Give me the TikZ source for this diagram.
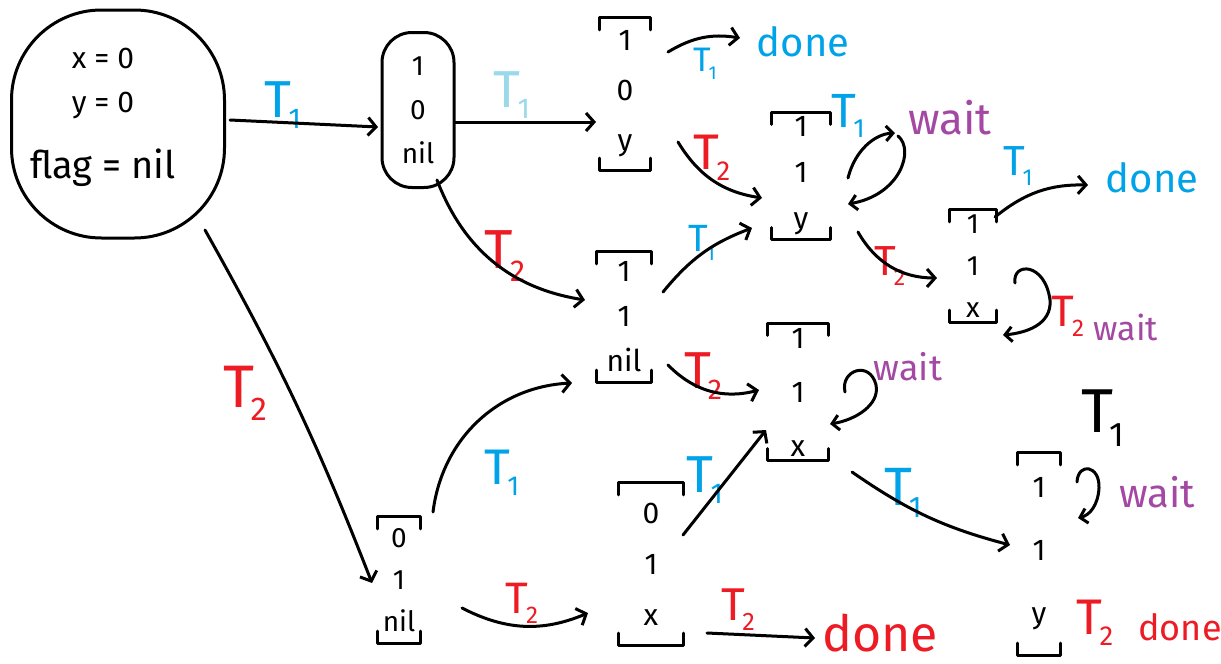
\documentclass[tikz,border=0pt]{standalone}
\usepackage{fontspec}
\setmainfont{Fira Sans}
\usetikzlibrary{arrows.meta}
\definecolor{blueC}{HTML}{00A2E8}
\definecolor{lightC}{HTML}{99D9EA}
\definecolor{redC}{HTML}{ED1C24}
\definecolor{purpC}{HTML}{A349A4}
\newcommand\fsz[2]{\fontsize{#1}{#2}\selectfont}
\newcommand\TT[1]{T\kern-.06em\raisebox{-.22em}{\scalebox{.55}{#1}}}
\newcommand\brk[1]{%
  \draw[br] ([yshift=-12pt]#1.north west) -- (#1.north west) -- (#1.north east) -- ([yshift=-12pt]#1.north east);
  \draw[br] ([yshift=12pt]#1.south west) -- (#1.south west) -- (#1.south east) -- ([yshift=12pt]#1.south east);}
\begin{document}
\begin{tikzpicture}[x=1pt,y=-1pt,
  br/.style={line width=3pt, line cap=round, line join=round},
  st/.style={align=center, inner sep=0pt},
  conn/.style={line width=3pt, line cap=round, -{Straight Barb[length=8pt,width=18pt,line width=3pt]}},
  lab/.style={inner sep=0pt},
  loopc/.style={line width=3pt, line cap=round, -{Straight Barb[length=7pt,width=15pt,line width=3pt]}}]
\useasboundingbox[fill=white] (0,0) rectangle (1221,664);

% initial state
\node[draw, line width=3pt, rounded corners=90pt, minimum width=213pt, minimum height=228pt] (S0) at (118,124) {};
\node[align=center, inner sep=0pt, font=\fsz{30}{44}] (S0t) at (103,117) {x = 0\\y = 0\\[22pt]{\fsz{38}{44}flag = nil}};

\node[draw, line width=3pt, rounded corners=30pt, minimum width=72pt, minimum height=155pt, align=center, inner sep=0pt, font=\fsz{28}{44}] (S1) at (418,110) {1\\0\\nil};

% bracket states
\node[st, minimum width=50pt, minimum height=152pt, font=\fsz{30}{50}] (S2) at (625,94) {1\\0\\y};
\node[st, minimum width=58pt, minimum height=127pt, font=\fsz{30}{46}] (S3) at (801,176) {1\\1\\y};
\node[st, minimum width=55pt, minimum height=130pt, font=\fsz{30}{45}] (S4) at (624,317) {1\\1\\nil};
\node[st, minimum width=60pt, minimum height=137pt, font=\fsz{30}{54}] (S5) at (798,392) {1\\1\\x};
\node[st, minimum width=47pt, minimum height=112pt, font=\fsz{28}{42}] (S6) at (973,266) {1\\1\\x};
\node[st, minimum width=43pt, minimum height=126pt, font=\fsz{28}{42}] (S7) at (399,580) {0\\1\\nil};
\node[st, minimum width=65pt, minimum height=162pt, font=\fsz{30}{51}] (S8) at (651,564) {0\\1\\x};
\node[st, minimum width=42pt, minimum height=202pt, font=\fsz{30}{63}] (S9) at (1039,554) {1\\1\\y};
\brk{S2}\brk{S3}\brk{S4}\brk{S5}\brk{S6}\brk{S7}\brk{S8}\brk{S9}

% outcome words
\node[lab, text=blueC, font=\fsz{40}{40}] (D1) at (803,42) {done};
\node[lab, text=blueC, font=\fsz{40}{40}] (D2) at (1152,178) {done};
\node[lab, text=redC, font=\fsz{50}{50}] (D3) at (880,633) {done};
\node[lab, text=redC, font=\fsz{36}{36}] (D4) at (1180,627) {done};
\node[lab, text=purpC, font=\fsz{44}{44}] (W1) at (950,118) {wait};
\node[lab, text=purpC, font=\fsz{34}{34}] (W2) at (1126,327) {wait};
\node[lab, text=purpC, font=\fsz{36}{36}] (W3) at (908,367) {wait};
\node[lab, text=purpC, font=\fsz{40}{40}] (W4) at (1157,492) {wait};

% transition labels
\node[lab, text=blueC, font=\fsz{52}{52}] (l1) at (283,105) {\TT{1}};
\node[lab, text=lightC, font=\fsz{52}{52}] (l2) at (512,95) {\TT{1}};
\node[lab, text=blueC, font=\fsz{34}{34}] (l3) at (705,64) {\TT{1}};
\node[lab, text=redC, font=\fsz{50}{50}] (l4) at (712,158) {\TT{2}};
\node[lab, text=blueC, font=\fsz{48}{48}] (l5) at (848,116) {\TT{1}};
\node[lab, text=blueC, font=\fsz{42}{42}] (l6) at (1018,166) {\TT{1}};
\node[lab, text=redC, font=\fsz{42}{42}] (l7) at (890,266) {\TT{2}};
\node[lab, text=redC, font=\fsz{44}{44}] (l8) at (1068,316) {\TT{2}};
\node[lab, text=blueC, font=\fsz{38}{38}] (l9) at (702,243) {\TT{1}};
\node[lab, text=redC, font=\fsz{55}{55}] (l10) at (505,256) {\TT{2}};
\node[lab, text=redC, font=\fsz{60}{60}] (l11) at (245,393) {\TT{2}};
\node[lab, text=redC, font=\fsz{52}{52}] (l12) at (703,376) {\TT{2}};
\node[lab, text=blueC, font=\fsz{50}{50}] (l13) at (502,473) {\TT{1}};
\node[lab, text=redC, font=\fsz{44}{44}] (l14) at (522,603) {\TT{2}};
\node[lab, text=blueC, font=\fsz{52}{52}] (l15) at (705,480) {\TT{1}};
\node[lab, text=blueC, font=\fsz{54}{54}] (l16) at (903,493) {\TT{1}};
\node[lab, text=black, font=\fsz{62}{62}] (l17) at (1103,418) {\TT{1}};
\node[lab, text=redC, font=\fsz{46}{46}] (l18) at (738,610) {\TT{2}};
\node[lab, text=redC, font=\fsz{50}{50}] (l19) at (1095,623) {\TT{2}};

% connectors
\draw[conn] ([shift={(112,-4)}]S0.center) -- ([shift={(-40,17)}]S1.center);
\draw[conn] ([shift={(37,12)}]S1.center) -- ([shift={(-29,28)}]S2.center);
\draw[conn] ([shift={(43,-42)}]S2.center) to[bend left=20] ([shift={(-63,-4)}]D1.center);
\draw[conn] ([shift={(53,48)}]S2.center) to[bend right=25] ([shift={(-39,22)}]S3.center);
\draw[conn] ([shift={(19,70)}]S1.center) to[bend right=30] ([shift={(-39,-17)}]S4.center);
\draw[conn] ([shift={(39,-25)}]S4.center) to[bend left=15] ([shift={(-49,52)}]S3.center);
\draw[conn] ([shift={(87,106)}]S0.center) to[bend left=4] ([shift={(-27,3)}]S7.center);
\draw[conn] ([shift={(34,-68)}]S7.center) to[bend left=40] ([shift={(-52,66)}]S4.center);
\draw[conn] ([shift={(63,28)}]S7.center) to[bend right=25] ([shift={(-63,49)}]S8.center);
\draw[conn] ([shift={(32,-29)}]S8.center) -- ([shift={(-32,38)}]S5.center);
\draw[conn] ([shift={(44,48)}]S4.center) to[bend right=30] ([shift={(-39,-2)}]S5.center);
\draw[conn] ([shift={(54,80)}]S5.center) to[bend right=10] ([shift={(-29,-9)}]S9.center);
\draw[conn] ([shift={(56,69)}]S8.center) -- ([shift={(-65,5)}]D3.center);
\draw[conn] ([shift={(57,56)}]S3.center) to[bend right=30] ([shift={(-36,12)}]S6.center);
\draw[conn] ([shift={(22,-49)}]S6.center) to[bend left=20] ([shift={(-64,7)}]D2.center);

% self loops
\draw[loopc] ([shift={(47,2)}]S3.center) .. controls ([shift={(54,-26)}]S3.center) and ([shift={(74,-42)}]S3.center) .. ([shift={(94,-43)}]S3.center);
\draw[loopc] ([shift={(97,-40)}]S3.center) .. controls ([shift={(114,-26)}]S3.center) and ([shift={(99,19)}]S3.center) .. ([shift={(47,28)}]S3.center);
\draw[loopc] ([shift={(42,17)}]S6.center) .. controls ([shift={(39,-4)}]S6.center) and ([shift={(72,-4)}]S6.center) .. ([shift={(77,34)}]S6.center) .. controls ([shift={(79,59)}]S6.center) and ([shift={(52,67)}]S6.center) .. ([shift={(30,69)}]S6.center);
\draw[loopc] ([shift={(47,0)}]S5.center) .. controls ([shift={(42,-22)}]S5.center) and ([shift={(72,-32)}]S5.center) .. ([shift={(78,-7)}]S5.center) .. controls ([shift={(82,13)}]S5.center) and ([shift={(57,28)}]S5.center) .. ([shift={(32,32)}]S5.center);
\draw[loopc] ([shift={(38,-72)}]S9.center) .. controls ([shift={(39,-92)}]S9.center) and ([shift={(61,-89)}]S9.center) .. ([shift={(60,-66)}]S9.center) .. controls ([shift={(59,-49)}]S9.center) and ([shift={(51,-39)}]S9.center) .. ([shift={(39,-36)}]S9.center);
\end{tikzpicture}
\end{document}
